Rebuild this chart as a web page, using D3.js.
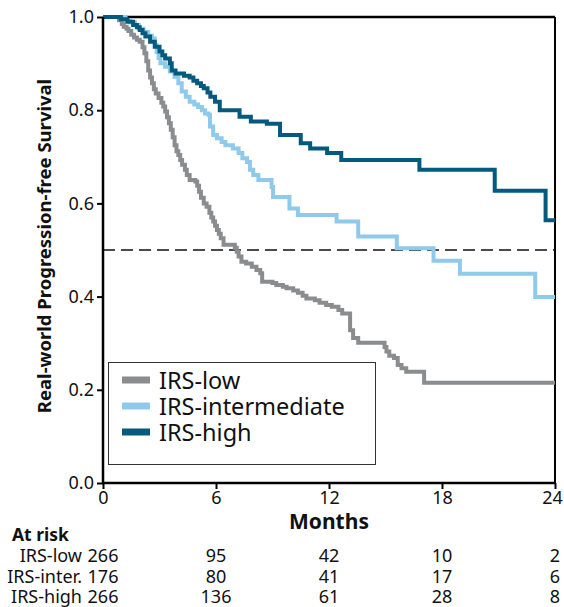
<!DOCTYPE html>
<html>
<head>
<meta charset="utf-8">
<script src="https://cdn.jsdelivr.net/npm/d3@7"></script>
<style>
  body { margin: 0; background: #fff; }
  svg { display: block; }
  text { font-family: "Noto Sans", sans-serif; fill: #111; }
</style>
</head>
<body>
<svg id="chart" width="564" height="607"></svg>
<script>
// Kaplan-Meier step data: time of each step (months) and survival after it
const lowTime = [0, 0.85, 1.0, 1.1, 1.25, 1.35, 1.5, 1.65, 1.8, 1.95, 2.1, 2.2, 2.3, 2.4, 2.5, 2.6, 2.7, 2.8, 2.95, 3.1, 3.2, 3.3, 3.4, 3.5, 3.6, 3.7, 3.8, 3.9, 4.0, 4.1, 4.2, 4.35, 4.45, 4.6, 4.9, 5.0, 5.1, 5.2, 5.35, 5.5, 5.65, 5.75, 5.85, 5.95, 6.05, 6.15, 6.25, 6.4, 7.0, 7.1, 7.2, 7.35, 7.6, 7.9, 8.15, 8.35, 8.45, 9.0, 9.2, 9.55, 9.75, 10.1, 10.35, 10.6, 10.8, 11.25, 11.5, 11.85, 12.15, 12.5, 12.7, 13.12, 13.28, 13.55, 14.95, 15.05, 15.2, 15.45, 15.65, 15.85, 16.1, 17.05, 24];
const lowSurv = [1.0, 0.993, 0.985, 0.979, 0.975, 0.97, 0.962, 0.956, 0.951, 0.947, 0.935, 0.922, 0.905, 0.885, 0.87, 0.858, 0.845, 0.836, 0.826, 0.816, 0.808, 0.797, 0.785, 0.772, 0.758, 0.742, 0.725, 0.712, 0.704, 0.693, 0.683, 0.672, 0.661, 0.65, 0.647, 0.638, 0.625, 0.612, 0.6, 0.593, 0.58, 0.57, 0.561, 0.552, 0.543, 0.535, 0.525, 0.511, 0.505, 0.496, 0.486, 0.475, 0.471, 0.464, 0.457, 0.45, 0.432, 0.429, 0.425, 0.421, 0.418, 0.413, 0.408, 0.402, 0.396, 0.392, 0.387, 0.382, 0.378, 0.371, 0.364, 0.328, 0.311, 0.301, 0.292, 0.282, 0.273, 0.268, 0.253, 0.246, 0.239, 0.215, 0.215];

const interTime = [0, 1.2, 1.45, 1.7, 1.9, 2.15, 2.4, 2.6, 2.75, 2.85, 2.95, 3.05, 3.3, 3.55, 3.8, 4.0, 4.18, 4.4, 4.6, 4.85, 5.05, 5.25, 5.42, 5.6, 5.68, 5.85, 6.05, 6.3, 6.5, 6.9, 7.2, 7.4, 7.65, 7.8, 7.98, 8.25, 8.95, 9.03, 9.9, 10.35, 12.4, 13.55, 15.6, 17.55, 18.95, 22.95, 24];
const interSurv = [1.0, 0.993, 0.988, 0.983, 0.975, 0.968, 0.96, 0.954, 0.94, 0.925, 0.912, 0.901, 0.893, 0.883, 0.872, 0.858, 0.84, 0.829, 0.818, 0.812, 0.807, 0.8, 0.793, 0.79, 0.765, 0.747, 0.74, 0.732, 0.725, 0.718, 0.708, 0.697, 0.689, 0.672, 0.661, 0.65, 0.635, 0.614, 0.589, 0.575, 0.561, 0.529, 0.504, 0.477, 0.449, 0.399, 0.399];

const highTime = [0, 0.95, 1.3, 1.6, 1.8, 1.95, 2.1, 2.25, 2.5, 2.75, 3.0, 3.15, 3.3, 3.55, 3.65, 3.85, 4.3, 4.6, 4.8, 5.0, 5.2, 5.35, 5.55, 5.7, 5.95, 6.2, 7.25, 7.85, 8.7, 9.4, 10.5, 11.0, 11.9, 12.65, 16.8, 20.8, 23.5, 24];
const highSurv = [1.0, 0.995, 0.99, 0.983, 0.978, 0.972, 0.965, 0.958, 0.947, 0.936, 0.926, 0.918, 0.911, 0.901, 0.885, 0.879, 0.874, 0.87, 0.863, 0.858, 0.852, 0.847, 0.838, 0.829, 0.818, 0.80, 0.786, 0.776, 0.771, 0.747, 0.729, 0.718, 0.708, 0.693, 0.672, 0.627, 0.564, 0.564];

const groupNames = ["IRS-low", "IRS-intermediate", "IRS-high"];
const groupColors = ["#8b8c8e", "#8fcaea", "#045a7c"];

// Number at risk table
const riskLabels = ["IRS-low", "IRS-inter.", "IRS-high"];
const riskMonths = [0, 6, 12, 18, 24];
const riskLow = [266, 95, 42, 10, 2];
const riskInter = [176, 80, 41, 17, 6];
const riskHigh = [266, 136, 61, 28, 8];

const xTicks = [0, 6, 12, 18, 24];
const yTicks = [0, 0.2, 0.4, 0.6, 0.8, 1.0];
const medianLine = 0.5;

const svg = d3.select("#chart");
const x = d3.scaleLinear().domain([0, 24]).range([103, 555]);
const y = d3.scaleLinear().domain([0, 1]).range([483, 17]);

const series = [
  { name: groupNames[0], color: groupColors[0], pts: d3.zip(lowTime, lowSurv) },
  { name: groupNames[1], color: groupColors[1], pts: d3.zip(interTime, interSurv) },
  { name: groupNames[2], color: groupColors[2], pts: d3.zip(highTime, highSurv) }
];

// Frame: top and right borders
svg.append("line").attr("x1", x(0)).attr("x2", x(24)).attr("y1", y(1)).attr("y2", y(1))
  .attr("stroke", "#000").attr("stroke-width", 2.5);
svg.append("line").attr("x1", x(24)).attr("x2", x(24)).attr("y1", y(1)).attr("y2", y(0))
  .attr("stroke", "#000").attr("stroke-width", 2);

// Median reference line
svg.append("line").attr("x1", x(0)).attr("x2", x(24))
  .attr("y1", y(medianLine)).attr("y2", y(medianLine))
  .attr("stroke", "#111").attr("stroke-width", 1.5).attr("stroke-dasharray", "12,6");

// Survival curves
const line = d3.line().x(d => x(d[0])).y(d => y(d[1])).curve(d3.curveStepAfter);
svg.append("g").selectAll("path").data(series).join("path")
  .attr("d", d => line(d.pts))
  .attr("fill", "none")
  .attr("stroke", d => d.color)
  .attr("stroke-width", 4)
  .attr("stroke-linejoin", "miter");

// Axes
const yAxis = svg.append("g").attr("transform", `translate(${x(0)},0)`)
  .call(d3.axisLeft(y).tickValues(yTicks).tickFormat(d3.format(".1f")).tickSize(6).tickPadding(3));
const xAxis = svg.append("g").attr("transform", `translate(0,${y(0)})`)
  .call(d3.axisBottom(x).tickValues(xTicks).tickFormat(d3.format("d")).tickSize(6).tickPadding(2));
[yAxis, xAxis].forEach(g => {
  g.select(".domain").attr("stroke", "#000").attr("stroke-width", 2.5);
  g.selectAll(".tick line").attr("stroke", "#000").attr("stroke-width", 2);
  g.selectAll(".tick text").attr("fill", "#111").style("font-size", "18px")
    .style("font-family", "'Noto Sans', sans-serif");
});
yAxis.select(".domain").attr("d", `M0,${y(1)}V${y(0)}`);
xAxis.select(".domain").attr("d", `M${x(0)},0H${x(24)}`);
xAxis.selectAll(".tick text").filter(d => d === 24).attr("dx", -3);

// Axis titles
svg.append("text").attr("x", x(12)).attr("y", 529).attr("text-anchor", "middle")
  .style("font-size", "21px").style("font-weight", "bold").text("Months");
svg.append("text").attr("transform", `translate(51,${(y(0) + y(1)) / 2 - 4}) rotate(-90)`)
  .attr("text-anchor", "middle").style("font-size", "18.5px").style("font-weight", "bold")
  .text("Real-world Progression-free Survival");

// Legend
const legend = svg.append("g");
legend.append("rect").attr("x", 108.5).attr("y", 362.5).attr("width", 267).attr("height", 102)
  .attr("fill", "#fff").attr("stroke", "#333").attr("stroke-width", 1);
series.forEach((s, i) => {
  const cy = 380 + i * 26;
  legend.append("rect").attr("x", 122).attr("y", cy - 3.5).attr("width", 28).attr("height", 7)
    .attr("fill", s.color);
  legend.append("text").attr("x", 159).attr("y", cy + 8.5)
    .style("font-size", "23.5px").text(s.name);
});

// Number at risk
svg.append("text").attr("x", 12).attr("y", 541).style("font-size", "17.5px")
  .style("font-weight", "bold").text("At risk");
const riskRows = [riskLow, riskInter, riskHigh];
riskRows.forEach((row, i) => {
  const by = 562 + i * 20.5;
  svg.append("text").attr("x", 82).attr("y", by).attr("text-anchor", "end")
    .style("font-size", "18px").text(riskLabels[i]);
  row.forEach((v, j) => {
    svg.append("text").attr("x", x(riskMonths[j])).attr("y", by)
      .attr("text-anchor", "middle").style("font-size", "18px").text(v);
  });
});
</script>
</body>
</html>
